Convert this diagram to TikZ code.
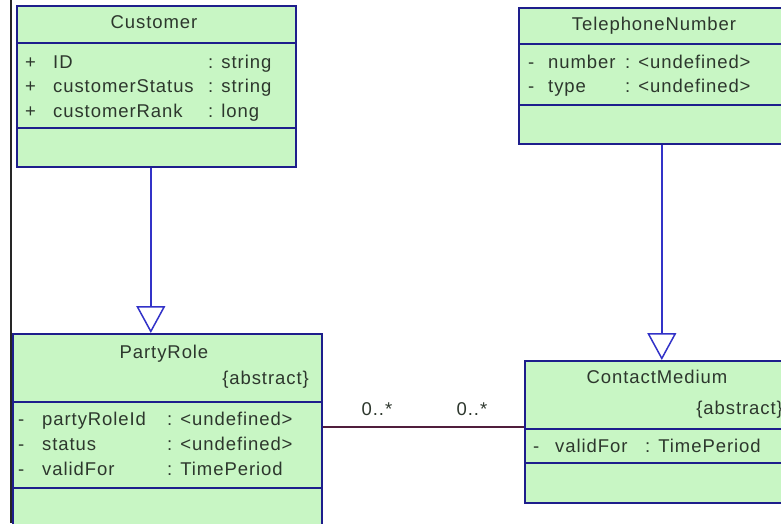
\documentclass[tikz,border=0pt]{standalone}
\usepackage{fontspec}
\setmainfont{Liberation Sans}[LetterSpace=5]
\usetikzlibrary{arrows.meta}
\definecolor{umlgreen}{RGB}{200,246,196}
\definecolor{boxblue}{RGB}{30,30,140}
\definecolor{genblue}{RGB}{50,50,200}
\definecolor{assoc}{RGB}{80,30,60}
\definecolor{txt}{RGB}{45,55,45}
\begin{document}
\begin{tikzpicture}[x=1pt,y=-1pt,
  umlbox/.style={draw=boxblue, fill=umlgreen, line width=1.6pt, rectangle, inner sep=0pt, anchor=north west},
  divider/.style={draw=boxblue, line width=1.6pt},
  lbl/.style={inner sep=0pt, text=txt, font=\fontsize{18.5}{22}\selectfont, anchor=base west},
  ttl/.style={lbl, anchor=base},
  abs/.style={lbl, anchor=base east},
  gen/.style={draw=genblue, line width=1.5pt, -{Triangle[open, length=27pt, width=29pt, line width=1.5pt]}},
  assocline/.style={draw=assoc, line width=1.5pt}
]
\useasboundingbox[fill=white] (0,0) rectangle (781,523);
\coordinate (edgetop) at (11,0);
\coordinate (edgebot) at (11,523);
\draw[black!85, line width=2pt] (edgetop) -- (edgebot);

% Customer
\node[umlbox, minimum width=279pt, minimum height=161pt] (cust) at (16,5) {};
\draw[divider] ([yshift=-38pt]cust.north west) -- ([yshift=-38pt]cust.north east);
\draw[divider] ([yshift=-123pt]cust.north west) -- ([yshift=-123pt]cust.north east);
\node[ttl] (custT) at (154,28) {Customer};
\node[lbl] (c1a) at (25,68) {+};
\node[lbl] (c1b) at (53,68) {ID};
\node[lbl] (c1c) at (208,68) {: string};
\node[lbl] (c2a) at (25,92) {+};
\node[lbl] (c2b) at (53,92) {customerStatus};
\node[lbl] (c2c) at (208,92) {: string};
\node[lbl] (c3a) at (25,117) {+};
\node[lbl] (c3b) at (53,117) {customerRank};
\node[lbl] (c3c) at (208,117) {: long};

% TelephoneNumber
\node[umlbox, minimum width=280pt, minimum height=136pt] (tel) at (518,7) {};
\draw[divider] ([yshift=-37pt]tel.north west) -- ([yshift=-37pt]tel.north east);
\draw[divider] ([yshift=-98pt]tel.north west) -- ([yshift=-98pt]tel.north east);
\node[ttl] (telT) at (654,30) {TelephoneNumber};
\node[lbl] (t1a) at (528,68) {-};
\node[lbl] (t1b) at (548,68) {number};
\node[lbl] (t1c) at (625,68) {: <undefined>};
\node[lbl] (t2a) at (528,92) {-};
\node[lbl] (t2b) at (548,92) {type};
\node[lbl] (t2c) at (625,92) {: <undefined>};

% PartyRole
\node[umlbox, minimum width=309pt, minimum height=200pt] (pr) at (12,333) {};
\draw[divider] ([yshift=-69pt]pr.north west) -- ([yshift=-69pt]pr.north east);
\draw[divider] ([yshift=-155pt]pr.north west) -- ([yshift=-155pt]pr.north east);
\node[ttl] (prT) at (164,358) {PartyRole};
\node[abs] (prA) at (309,384) {\{abstract\}};
\node[lbl] (p1a) at (18,425) {-};
\node[lbl] (p1b) at (42,425) {partyRoleId};
\node[lbl] (p1c) at (167,425) {: <undefined>};
\node[lbl] (p2a) at (18,450) {-};
\node[lbl] (p2b) at (42,450) {status};
\node[lbl] (p2c) at (167,450) {: <undefined>};
\node[lbl] (p3a) at (18,475) {-};
\node[lbl] (p3b) at (42,475) {validFor};
\node[lbl] (p3c) at (167,475) {: TimePeriod};

% ContactMedium
\node[umlbox, minimum width=270pt, minimum height=142pt] (cm) at (524,360) {};
\draw[divider] ([yshift=-69pt]cm.north west) -- ([yshift=-69pt]cm.north east);
\draw[divider] ([yshift=-103pt]cm.north west) -- ([yshift=-103pt]cm.north east);
\node[ttl] (cmT) at (657,383) {ContactMedium};
\node[abs] (cmA) at (783,414) {\{abstract\}};
\node[lbl] (m1a) at (533,452) {-};
\node[lbl] (m1b) at (555,452) {validFor};
\node[lbl] (m1c) at (645,452) {: TimePeriod};

% Generalizations
\draw[gen] ([xshift=-5.5pt]cust.south) -- ([xshift=-16.5pt]pr.north);
\draw[gen] ([xshift=3pt]tel.south) -- ([xshift=2pt]cm.north);

% Association
\draw[assocline] ([yshift=-94pt]pr.north east) -- ([yshift=-67pt]cm.north west);
\node[ttl] (m1) at (377,415) {0..*};
\node[ttl] (m2) at (472,415) {0..*};
\end{tikzpicture}
\end{document}
